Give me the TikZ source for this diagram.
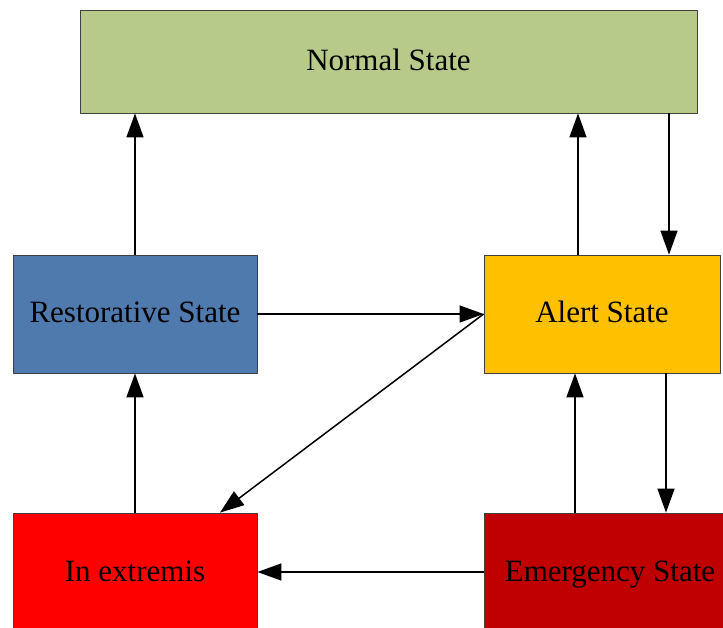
\documentclass[tikz,border=0pt]{standalone}
\usepackage{fontspec}
\setmainfont{Liberation Serif}
\usetikzlibrary{arrows.meta}
\definecolor{normalgreen}{HTML}{B7CA89}
\definecolor{restblue}{HTML}{4F7AAE}
\definecolor{alertyellow}{HTML}{FFC000}
\definecolor{extremred}{HTML}{FF0000}
\definecolor{emergred}{HTML}{C00000}
\begin{document}
\begin{tikzpicture}[x=1pt, y=-1pt, >={Triangle[length=24pt,width=17pt]}, line join=round,
	state/.style={draw=black!75, line width=0.8pt, minimum width=244pt, minimum height=118pt, inner sep=0pt, text height=22pt, text depth=4pt, font=\fontsize{31}{36}\selectfont},
	link/.style={->, line width=1.5pt}]
	\useasboundingbox (0,0) rectangle (723,628);
	\clip (0,0) rectangle (723,628);
	%states
	\node[state, fill=normalgreen, minimum width=617pt, minimum height=103pt] (normal) at (388.5,61.5) {Normal State};
	\node[state, fill=restblue] (rest) at (135,314) {Restorative State};
	\node[state, fill=alertyellow, minimum width=236pt] (alert) at (602,314) {Alert State};
	\node[state, fill=extremred] (extremis) at (135,572) {In extremis};
	\node[state, fill=emergred, minimum width=252pt] (emerg) at (610,572) {Emergency State};
	%transitions
	\draw[link] (rest.north) -- (rest.north |- normal.south);
	\draw[link] ([xshift=-24pt]alert.north) -- ([xshift=-24pt]alert.north |- normal.south);
	\draw[link] ([xshift=67pt]alert.north |- normal.south) -- ([xshift=67pt]alert.north);
	\draw[link] (rest.east) -- (alert.west);
	\draw[link] (alert.west) -- ([xshift=85pt]extremis.north);
	\draw[link] (extremis.north) -- (rest.south);
	\draw[link] ([xshift=-35pt]emerg.north) -- ([xshift=-35pt]emerg.north |- alert.south);
	\draw[link] ([xshift=64pt]alert.south) -- ([xshift=64pt]alert.south |- emerg.north);
	\draw[link] (emerg.west) -- (extremis.east);
\end{tikzpicture}
\end{document}
